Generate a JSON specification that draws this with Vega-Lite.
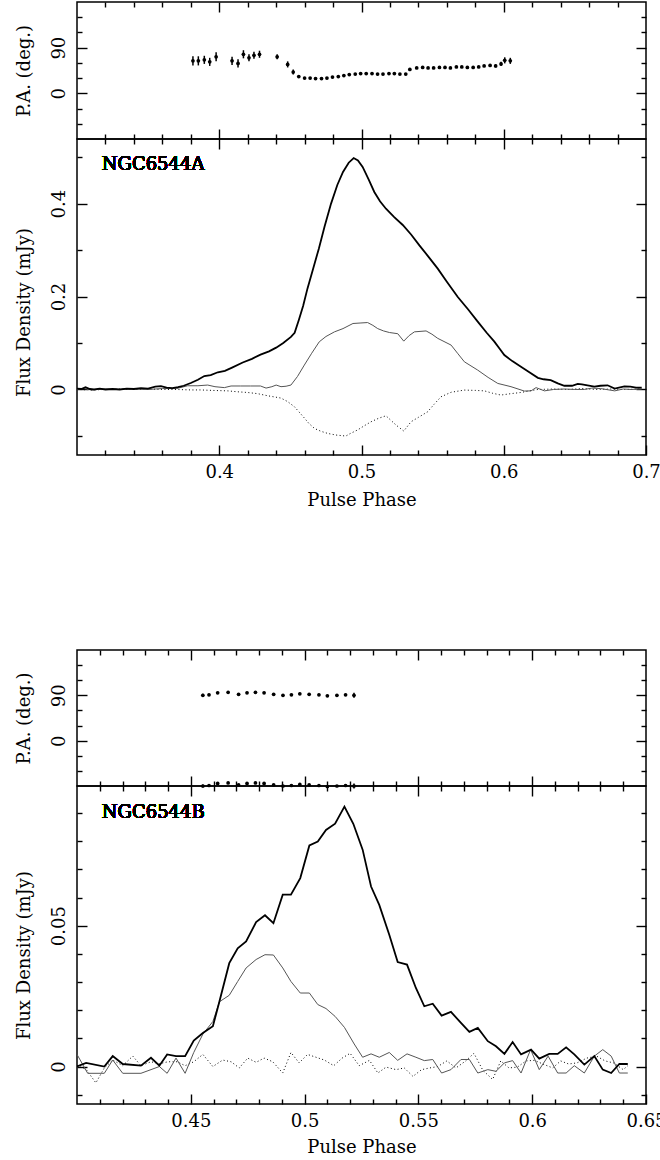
{
  "$schema": "https://vega.github.io/schema/vega-lite/v6.json",
  "padding": {"left": 14, "top": 0, "right": 0, "bottom": 0},
  "background": "white",
  "config": {
    "view": {"stroke": "#000", "strokeWidth": 1.5},
    "axis": {"domain": false, "grid": false, "tickColor": "#000", "tickWidth": 1.4, "labelColor": "#000", "titleColor": "#000", "labelFont": "DejaVu Serif", "titleFont": "DejaVu Serif", "labelFontSize": 18, "titleFontSize": 18, "titleFontWeight": "normal", "labelOverlap": false, "labelBound": false, "labelFlush": false},
    "text": {"font": "DejaVu Serif"}
  },
  "datasets": {
    "paA": [
      {"x": 0.3815, "pa": 64, "err": 9}, {"x": 0.3853, "pa": 64, "err": 9}, {"x": 0.3895, "pa": 66, "err": 8}, {"x": 0.3933, "pa": 62, "err": 8}, {"x": 0.3978, "pa": 72, "err": 9},
      {"x": 0.409, "pa": 64, "err": 8}, {"x": 0.4132, "pa": 59, "err": 8}, {"x": 0.417, "pa": 77, "err": 8}, {"x": 0.4209, "pa": 70, "err": 7}, {"x": 0.4244, "pa": 75, "err": 7}, {"x": 0.4283, "pa": 77, "err": 7},
      {"x": 0.4407, "pa": 72, "err": 5}, {"x": 0.4481, "pa": 57, "err": 6}, {"x": 0.452, "pa": 42, "err": 5}, {"x": 0.4559, "pa": 33, "err": 3}, {"x": 0.46, "pa": 30, "err": 2},
      {"x": 0.4639, "pa": 30, "err": 2}, {"x": 0.4677, "pa": 29, "err": 2}, {"x": 0.4719, "pa": 29, "err": 2}, {"x": 0.4757, "pa": 30, "err": 2}, {"x": 0.4796, "pa": 32, "err": 2},
      {"x": 0.4837, "pa": 33, "err": 2}, {"x": 0.4876, "pa": 35, "err": 2}, {"x": 0.4914, "pa": 37, "err": 2}, {"x": 0.4956, "pa": 38, "err": 2}, {"x": 0.4994, "pa": 39, "err": 2},
      {"x": 0.5033, "pa": 39, "err": 2}, {"x": 0.5074, "pa": 39, "err": 2}, {"x": 0.5113, "pa": 38, "err": 2}, {"x": 0.5151, "pa": 38, "err": 2}, {"x": 0.5193, "pa": 39, "err": 2},
      {"x": 0.5231, "pa": 39, "err": 2}, {"x": 0.527, "pa": 38, "err": 2}, {"x": 0.5311, "pa": 38, "err": 2}, {"x": 0.534, "pa": 47, "err": 2}, {"x": 0.5388, "pa": 50, "err": 2},
      {"x": 0.543, "pa": 51, "err": 2}, {"x": 0.5468, "pa": 50, "err": 2}, {"x": 0.5507, "pa": 50, "err": 2}, {"x": 0.5548, "pa": 51, "err": 2}, {"x": 0.5587, "pa": 51, "err": 2},
      {"x": 0.5625, "pa": 50, "err": 2}, {"x": 0.5667, "pa": 52, "err": 2}, {"x": 0.5705, "pa": 52, "err": 2}, {"x": 0.5744, "pa": 51, "err": 2}, {"x": 0.5785, "pa": 51, "err": 2},
      {"x": 0.5824, "pa": 52, "err": 2}, {"x": 0.5862, "pa": 54, "err": 2}, {"x": 0.5904, "pa": 55, "err": 3}, {"x": 0.5943, "pa": 54, "err": 3}, {"x": 0.5981, "pa": 58, "err": 4},
      {"x": 0.6007, "pa": 65, "err": 6}, {"x": 0.6046, "pa": 64, "err": 6}
    ],
    "paB": [
      {"x": 0.4553, "pa": 90, "err": 3}, {"x": 0.458, "pa": 91, "err": 2}, {"x": 0.4618, "pa": 95, "err": 2}, {"x": 0.4664, "pa": 96, "err": 2}, {"x": 0.471, "pa": 92, "err": 2},
      {"x": 0.4747, "pa": 95, "err": 2}, {"x": 0.4784, "pa": 96, "err": 2}, {"x": 0.4822, "pa": 95, "err": 2}, {"x": 0.4864, "pa": 92, "err": 2}, {"x": 0.4905, "pa": 90, "err": 2},
      {"x": 0.4942, "pa": 91, "err": 2}, {"x": 0.4979, "pa": 93, "err": 2}, {"x": 0.502, "pa": 92, "err": 2}, {"x": 0.5063, "pa": 91, "err": 2}, {"x": 0.51, "pa": 89, "err": 2},
      {"x": 0.5142, "pa": 90, "err": 2}, {"x": 0.518, "pa": 91, "err": 2}, {"x": 0.5217, "pa": 90, "err": 5},
      {"x": 0.4553, "pa": -90, "err": 3}, {"x": 0.458, "pa": -89, "err": 2}, {"x": 0.4618, "pa": -85, "err": 2}, {"x": 0.4664, "pa": -84, "err": 2}, {"x": 0.471, "pa": -88, "err": 2},
      {"x": 0.4747, "pa": -85, "err": 2}, {"x": 0.4784, "pa": -84, "err": 2}, {"x": 0.4822, "pa": -85, "err": 2}, {"x": 0.4864, "pa": -88, "err": 2}, {"x": 0.4905, "pa": -90, "err": 2},
      {"x": 0.4942, "pa": -89, "err": 2}, {"x": 0.4979, "pa": -87, "err": 2}, {"x": 0.502, "pa": -88, "err": 2}, {"x": 0.5063, "pa": -89, "err": 2}, {"x": 0.51, "pa": -91, "err": 2},
      {"x": 0.5142, "pa": -90, "err": 2}, {"x": 0.518, "pa": -89, "err": 2}, {"x": 0.5217, "pa": -90, "err": 5}
    ],
    "fluxA": [
      {"s": "I", "x": 0.300, "y": 0.002}, {"s": "I", "x": 0.303, "y": 0.001}, {"s": "I", "x": 0.306, "y": 0.005}, {"s": "I", "x": 0.309, "y": 0.001}, {"s": "I", "x": 0.312, "y": 0.000},
      {"s": "I", "x": 0.316, "y": 0.002}, {"s": "I", "x": 0.320, "y": 0.000}, {"s": "I", "x": 0.325, "y": 0.001}, {"s": "I", "x": 0.330, "y": 0.000}, {"s": "I", "x": 0.335, "y": 0.002},
      {"s": "I", "x": 0.340, "y": 0.001}, {"s": "I", "x": 0.345, "y": 0.003}, {"s": "I", "x": 0.350, "y": 0.002}, {"s": "I", "x": 0.355, "y": 0.006}, {"s": "I", "x": 0.359, "y": 0.007},
      {"s": "I", "x": 0.363, "y": 0.004}, {"s": "I", "x": 0.367, "y": 0.003}, {"s": "I", "x": 0.371, "y": 0.005}, {"s": "I", "x": 0.375, "y": 0.008}, {"s": "I", "x": 0.380, "y": 0.014},
      {"s": "I", "x": 0.385, "y": 0.021}, {"s": "I", "x": 0.3895, "y": 0.029}, {"s": "I", "x": 0.394, "y": 0.031}, {"s": "I", "x": 0.399, "y": 0.037}, {"s": "I", "x": 0.404, "y": 0.040},
      {"s": "I", "x": 0.409, "y": 0.047}, {"s": "I", "x": 0.4165, "y": 0.058}, {"s": "I", "x": 0.423, "y": 0.066}, {"s": "I", "x": 0.429, "y": 0.075}, {"s": "I", "x": 0.435, "y": 0.082},
      {"s": "I", "x": 0.440, "y": 0.090}, {"s": "I", "x": 0.445, "y": 0.100}, {"s": "I", "x": 0.4504, "y": 0.113}, {"s": "I", "x": 0.453, "y": 0.122}, {"s": "I", "x": 0.456, "y": 0.150},
      {"s": "I", "x": 0.459, "y": 0.180}, {"s": "I", "x": 0.462, "y": 0.217}, {"s": "I", "x": 0.466, "y": 0.260}, {"s": "I", "x": 0.470, "y": 0.303}, {"s": "I", "x": 0.474, "y": 0.350},
      {"s": "I", "x": 0.4786, "y": 0.400}, {"s": "I", "x": 0.483, "y": 0.440}, {"s": "I", "x": 0.487, "y": 0.468}, {"s": "I", "x": 0.491, "y": 0.488}, {"s": "I", "x": 0.4945, "y": 0.498},
      {"s": "I", "x": 0.4975, "y": 0.493}, {"s": "I", "x": 0.5008, "y": 0.479}, {"s": "I", "x": 0.505, "y": 0.452}, {"s": "I", "x": 0.509, "y": 0.425}, {"s": "I", "x": 0.513, "y": 0.405},
      {"s": "I", "x": 0.5172, "y": 0.389}, {"s": "I", "x": 0.523, "y": 0.371}, {"s": "I", "x": 0.529, "y": 0.354}, {"s": "I", "x": 0.535, "y": 0.333}, {"s": "I", "x": 0.5407, "y": 0.310},
      {"s": "I", "x": 0.547, "y": 0.286}, {"s": "I", "x": 0.5536, "y": 0.260}, {"s": "I", "x": 0.560, "y": 0.232}, {"s": "I", "x": 0.5677, "y": 0.199}, {"s": "I", "x": 0.575, "y": 0.172},
      {"s": "I", "x": 0.5817, "y": 0.146}, {"s": "I", "x": 0.588, "y": 0.122}, {"s": "I", "x": 0.5934, "y": 0.103}, {"s": "I", "x": 0.597, "y": 0.088}, {"s": "I", "x": 0.6004, "y": 0.074},
      {"s": "I", "x": 0.606, "y": 0.061}, {"s": "I", "x": 0.6121, "y": 0.049}, {"s": "I", "x": 0.618, "y": 0.037}, {"s": "I", "x": 0.624, "y": 0.025}, {"s": "I", "x": 0.628, "y": 0.022},
      {"s": "I", "x": 0.633, "y": 0.020}, {"s": "I", "x": 0.638, "y": 0.013}, {"s": "I", "x": 0.6426, "y": 0.008}, {"s": "I", "x": 0.648, "y": 0.008}, {"s": "I", "x": 0.652, "y": 0.012},
      {"s": "I", "x": 0.655, "y": 0.011}, {"s": "I", "x": 0.6637, "y": 0.006}, {"s": "I", "x": 0.668, "y": 0.008}, {"s": "I", "x": 0.673, "y": 0.009}, {"s": "I", "x": 0.678, "y": 0.002},
      {"s": "I", "x": 0.6848, "y": 0.0065}, {"s": "I", "x": 0.689, "y": 0.006}, {"s": "I", "x": 0.693, "y": 0.004}, {"s": "I", "x": 0.697, "y": 0.004},
      {"s": "L", "x": 0.300, "y": 0.000}, {"s": "L", "x": 0.305, "y": 0.002}, {"s": "L", "x": 0.310, "y": -0.001}, {"s": "L", "x": 0.320, "y": 0.001}, {"s": "L", "x": 0.330, "y": 0.000},
      {"s": "L", "x": 0.340, "y": 0.001}, {"s": "L", "x": 0.350, "y": 0.000}, {"s": "L", "x": 0.360, "y": 0.002}, {"s": "L", "x": 0.370, "y": 0.002}, {"s": "L", "x": 0.3778, "y": 0.008},
      {"s": "L", "x": 0.385, "y": 0.008}, {"s": "L", "x": 0.3919, "y": 0.0095}, {"s": "L", "x": 0.397, "y": 0.006}, {"s": "L", "x": 0.4036, "y": 0.004}, {"s": "L", "x": 0.4083, "y": 0.0075},
      {"s": "L", "x": 0.415, "y": 0.0075}, {"s": "L", "x": 0.422, "y": 0.0075}, {"s": "L", "x": 0.429, "y": 0.0075}, {"s": "L", "x": 0.4329, "y": 0.003}, {"s": "L", "x": 0.437, "y": 0.006},
      {"s": "L", "x": 0.440, "y": 0.0095}, {"s": "L", "x": 0.4434, "y": 0.006}, {"s": "L", "x": 0.447, "y": 0.007}, {"s": "L", "x": 0.4504, "y": 0.0095}, {"s": "L", "x": 0.455, "y": 0.028},
      {"s": "L", "x": 0.4598, "y": 0.0525}, {"s": "L", "x": 0.465, "y": 0.078}, {"s": "L", "x": 0.4703, "y": 0.1026}, {"s": "L", "x": 0.475, "y": 0.114}, {"s": "L", "x": 0.481, "y": 0.124},
      {"s": "L", "x": 0.487, "y": 0.131}, {"s": "L", "x": 0.494, "y": 0.142}, {"s": "L", "x": 0.499, "y": 0.143}, {"s": "L", "x": 0.5043, "y": 0.144}, {"s": "L", "x": 0.508, "y": 0.138},
      {"s": "L", "x": 0.5114, "y": 0.131}, {"s": "L", "x": 0.5155, "y": 0.126}, {"s": "L", "x": 0.5196, "y": 0.1226}, {"s": "L", "x": 0.5255, "y": 0.120}, {"s": "L", "x": 0.5297, "y": 0.104},
      {"s": "L", "x": 0.5335, "y": 0.116}, {"s": "L", "x": 0.5372, "y": 0.124}, {"s": "L", "x": 0.5454, "y": 0.126}, {"s": "L", "x": 0.5495, "y": 0.119}, {"s": "L", "x": 0.5536, "y": 0.110},
      {"s": "L", "x": 0.563, "y": 0.0955}, {"s": "L", "x": 0.5675, "y": 0.078}, {"s": "L", "x": 0.5723, "y": 0.0596}, {"s": "L", "x": 0.5817, "y": 0.0417}, {"s": "L", "x": 0.589, "y": 0.026},
      {"s": "L", "x": 0.5958, "y": 0.013}, {"s": "L", "x": 0.6051, "y": 0.006}, {"s": "L", "x": 0.6145, "y": -0.0034}, {"s": "L", "x": 0.6192, "y": -0.003}, {"s": "L", "x": 0.6227, "y": 0.004},
      {"s": "L", "x": 0.6286, "y": -0.003}, {"s": "L", "x": 0.635, "y": 0.000}, {"s": "L", "x": 0.6426, "y": 0.001}, {"s": "L", "x": 0.650, "y": 0.000}, {"s": "L", "x": 0.6566, "y": 0.000},
      {"s": "L", "x": 0.662, "y": 0.003}, {"s": "L", "x": 0.668, "y": 0.002}, {"s": "L", "x": 0.678, "y": -0.003}, {"s": "L", "x": 0.684, "y": 0.001}, {"s": "L", "x": 0.6896, "y": 0.000},
      {"s": "L", "x": 0.697, "y": 0.001},
      {"s": "V", "x": 0.300, "y": 0.000}, {"s": "V", "x": 0.310, "y": -0.001}, {"s": "V", "x": 0.320, "y": 0.000}, {"s": "V", "x": 0.330, "y": 0.001}, {"s": "V", "x": 0.340, "y": 0.000},
      {"s": "V", "x": 0.350, "y": 0.001}, {"s": "V", "x": 0.360, "y": 0.000}, {"s": "V", "x": 0.370, "y": 0.000}, {"s": "V", "x": 0.380, "y": -0.001}, {"s": "V", "x": 0.387, "y": -0.001},
      {"s": "V", "x": 0.395, "y": -0.002}, {"s": "V", "x": 0.406, "y": -0.003}, {"s": "V", "x": 0.413, "y": -0.005}, {"s": "V", "x": 0.420, "y": -0.0065}, {"s": "V", "x": 0.427, "y": -0.009},
      {"s": "V", "x": 0.434, "y": -0.0135}, {"s": "V", "x": 0.4434, "y": -0.0185}, {"s": "V", "x": 0.448, "y": -0.026}, {"s": "V", "x": 0.4528, "y": -0.037}, {"s": "V", "x": 0.456, "y": -0.048},
      {"s": "V", "x": 0.460, "y": -0.062}, {"s": "V", "x": 0.463, "y": -0.073}, {"s": "V", "x": 0.467, "y": -0.084}, {"s": "V", "x": 0.4715, "y": -0.090}, {"s": "V", "x": 0.4763, "y": -0.0946},
      {"s": "V", "x": 0.482, "y": -0.098}, {"s": "V", "x": 0.487, "y": -0.0996}, {"s": "V", "x": 0.4891, "y": -0.100}, {"s": "V", "x": 0.492, "y": -0.095}, {"s": "V", "x": 0.4973, "y": -0.087},
      {"s": "V", "x": 0.502, "y": -0.078}, {"s": "V", "x": 0.5067, "y": -0.0695}, {"s": "V", "x": 0.512, "y": -0.062}, {"s": "V", "x": 0.5172, "y": -0.0566}, {"s": "V", "x": 0.5243, "y": -0.0766},
      {"s": "V", "x": 0.5297, "y": -0.0895}, {"s": "V", "x": 0.5348, "y": -0.0695}, {"s": "V", "x": 0.540, "y": -0.060}, {"s": "V", "x": 0.5465, "y": -0.048}, {"s": "V", "x": 0.551, "y": -0.032},
      {"s": "V", "x": 0.5559, "y": -0.0157}, {"s": "V", "x": 0.563, "y": -0.006}, {"s": "V", "x": 0.5723, "y": -0.0013}, {"s": "V", "x": 0.580, "y": -0.002}, {"s": "V", "x": 0.5864, "y": -0.003},
      {"s": "V", "x": 0.592, "y": -0.008}, {"s": "V", "x": 0.598, "y": -0.012}, {"s": "V", "x": 0.605, "y": -0.009}, {"s": "V", "x": 0.612, "y": -0.0065}, {"s": "V", "x": 0.618, "y": -0.003},
      {"s": "V", "x": 0.624, "y": 0.000}, {"s": "V", "x": 0.635, "y": 0.001}, {"s": "V", "x": 0.645, "y": 0.000}, {"s": "V", "x": 0.655, "y": 0.002}, {"s": "V", "x": 0.665, "y": 0.000},
      {"s": "V", "x": 0.675, "y": 0.001}, {"s": "V", "x": 0.685, "y": 0.000}, {"s": "V", "x": 0.697, "y": 0.001}
    ],
    "fluxB": [
      {"s": "I", "x": 0.4000, "y": 0.0000}, {"s": "I", "x": 0.4040, "y": 0.0013}, {"s": "I", "x": 0.4120, "y": 0.0000}, {"s": "I", "x": 0.4157, "y": 0.0037}, {"s": "I", "x": 0.4201, "y": 0.0009},
      {"s": "I", "x": 0.4281, "y": 0.0003}, {"s": "I", "x": 0.4325, "y": 0.0031}, {"s": "I", "x": 0.4362, "y": 0.0003}, {"s": "I", "x": 0.4396, "y": 0.0043}, {"s": "I", "x": 0.4435, "y": 0.0037},
      {"s": "I", "x": 0.4475, "y": 0.0037}, {"s": "I", "x": 0.4513, "y": 0.0092}, {"s": "I", "x": 0.4553, "y": 0.0119}, {"s": "I", "x": 0.4597, "y": 0.0143}, {"s": "I", "x": 0.4626, "y": 0.0232},
      {"s": "I", "x": 0.4669, "y": 0.0367}, {"s": "I", "x": 0.4706, "y": 0.0420}, {"s": "I", "x": 0.4743, "y": 0.0444}, {"s": "I", "x": 0.4787, "y": 0.0513}, {"s": "I", "x": 0.4826, "y": 0.0537},
      {"s": "I", "x": 0.4863, "y": 0.0509}, {"s": "I", "x": 0.4904, "y": 0.0610}, {"s": "I", "x": 0.4940, "y": 0.0610}, {"s": "I", "x": 0.4981, "y": 0.0669}, {"s": "I", "x": 0.5021, "y": 0.0785},
      {"s": "I", "x": 0.5058, "y": 0.0799}, {"s": "I", "x": 0.5094, "y": 0.0840}, {"s": "I", "x": 0.5134, "y": 0.0862}, {"s": "I", "x": 0.5175, "y": 0.0923}, {"s": "I", "x": 0.5214, "y": 0.0862},
      {"s": "I", "x": 0.5255, "y": 0.0770}, {"s": "I", "x": 0.5292, "y": 0.0639}, {"s": "I", "x": 0.5328, "y": 0.0574}, {"s": "I", "x": 0.5372, "y": 0.0468}, {"s": "I", "x": 0.5409, "y": 0.0371},
      {"s": "I", "x": 0.5450, "y": 0.0362}, {"s": "I", "x": 0.5489, "y": 0.0279}, {"s": "I", "x": 0.5526, "y": 0.0214}, {"s": "I", "x": 0.5563, "y": 0.0223}, {"s": "I", "x": 0.5602, "y": 0.0181},
      {"s": "I", "x": 0.5643, "y": 0.0194}, {"s": "I", "x": 0.5687, "y": 0.0155}, {"s": "I", "x": 0.5724, "y": 0.0123}, {"s": "I", "x": 0.5761, "y": 0.0137}, {"s": "I", "x": 0.5805, "y": 0.0090},
      {"s": "I", "x": 0.5841, "y": 0.0072}, {"s": "I", "x": 0.5878, "y": 0.0045}, {"s": "I", "x": 0.5914, "y": 0.0087}, {"s": "I", "x": 0.5951, "y": 0.0043}, {"s": "I", "x": 0.5995, "y": 0.0060},
      {"s": "I", "x": 0.6031, "y": 0.0028}, {"s": "I", "x": 0.6075, "y": 0.0045}, {"s": "I", "x": 0.6112, "y": 0.0045}, {"s": "I", "x": 0.6149, "y": 0.0068}, {"s": "I", "x": 0.6185, "y": 0.0043},
      {"s": "I", "x": 0.6229, "y": 0.0007}, {"s": "I", "x": 0.6273, "y": 0.0037}, {"s": "I", "x": 0.6310, "y": -0.0011}, {"s": "I", "x": 0.6347, "y": -0.0023}, {"s": "I", "x": 0.6383, "y": 0.0009},
      {"s": "I", "x": 0.6420, "y": 0.0009},
      {"s": "L", "x": 0.4000, "y": 0.0043}, {"s": "L", "x": 0.4047, "y": -0.0024}, {"s": "L", "x": 0.4120, "y": -0.0024}, {"s": "L", "x": 0.4157, "y": 0.0023}, {"s": "L", "x": 0.4201, "y": -0.0024},
      {"s": "L", "x": 0.4281, "y": -0.0024}, {"s": "L", "x": 0.4362, "y": 0.0000}, {"s": "L", "x": 0.4396, "y": -0.0024}, {"s": "L", "x": 0.4435, "y": 0.0030}, {"s": "L", "x": 0.4475, "y": -0.0024},
      {"s": "L", "x": 0.4513, "y": 0.0050}, {"s": "L", "x": 0.4553, "y": 0.0115}, {"s": "L", "x": 0.4597, "y": 0.0160}, {"s": "L", "x": 0.4626, "y": 0.0230}, {"s": "L", "x": 0.4669, "y": 0.0253},
      {"s": "L", "x": 0.4706, "y": 0.0302}, {"s": "L", "x": 0.4743, "y": 0.0350}, {"s": "L", "x": 0.4787, "y": 0.0380}, {"s": "L", "x": 0.4826, "y": 0.0397}, {"s": "L", "x": 0.4863, "y": 0.0396},
      {"s": "L", "x": 0.4904, "y": 0.0350}, {"s": "L", "x": 0.4940, "y": 0.0302}, {"s": "L", "x": 0.4981, "y": 0.0261}, {"s": "L", "x": 0.5021, "y": 0.0261}, {"s": "L", "x": 0.5058, "y": 0.0220},
      {"s": "L", "x": 0.5094, "y": 0.0206}, {"s": "L", "x": 0.5134, "y": 0.0178}, {"s": "L", "x": 0.5175, "y": 0.0139}, {"s": "L", "x": 0.5218, "y": 0.0080}, {"s": "L", "x": 0.5255, "y": 0.0033},
      {"s": "L", "x": 0.5292, "y": 0.0045}, {"s": "L", "x": 0.5328, "y": 0.0033}, {"s": "L", "x": 0.5372, "y": 0.0050}, {"s": "L", "x": 0.5409, "y": 0.0022}, {"s": "L", "x": 0.5450, "y": 0.0045},
      {"s": "L", "x": 0.5489, "y": 0.0033}, {"s": "L", "x": 0.5526, "y": 0.0021}, {"s": "L", "x": 0.5563, "y": 0.0025}, {"s": "L", "x": 0.5602, "y": -0.0023}, {"s": "L", "x": 0.5643, "y": -0.0011},
      {"s": "L", "x": 0.5687, "y": 0.0025}, {"s": "L", "x": 0.5724, "y": 0.0025}, {"s": "L", "x": 0.5761, "y": -0.0023}, {"s": "L", "x": 0.5805, "y": -0.0011}, {"s": "L", "x": 0.5841, "y": -0.0017},
      {"s": "L", "x": 0.5878, "y": 0.0013}, {"s": "L", "x": 0.5914, "y": 0.0021}, {"s": "L", "x": 0.5951, "y": -0.0023}, {"s": "L", "x": 0.5993, "y": 0.0060}, {"s": "L", "x": 0.6031, "y": -0.0011},
      {"s": "L", "x": 0.6070, "y": 0.0037}, {"s": "L", "x": 0.6112, "y": -0.0023}, {"s": "L", "x": 0.6149, "y": -0.0023}, {"s": "L", "x": 0.6185, "y": 0.0003}, {"s": "L", "x": 0.6229, "y": -0.0023},
      {"s": "L", "x": 0.6273, "y": 0.0037}, {"s": "L", "x": 0.6310, "y": 0.0060}, {"s": "L", "x": 0.6347, "y": 0.0037}, {"s": "L", "x": 0.6383, "y": -0.0023}, {"s": "L", "x": 0.6420, "y": -0.0023},
      {"s": "V", "x": 0.4000, "y": 0.0003}, {"s": "V", "x": 0.4040, "y": -0.0010}, {"s": "V", "x": 0.4083, "y": -0.0058}, {"s": "V", "x": 0.4120, "y": -0.0005}, {"s": "V", "x": 0.4157, "y": 0.0023},
      {"s": "V", "x": 0.4201, "y": 0.0003}, {"s": "V", "x": 0.4245, "y": 0.0037}, {"s": "V", "x": 0.4281, "y": 0.0003}, {"s": "V", "x": 0.4325, "y": 0.0017}, {"s": "V", "x": 0.4362, "y": 0.0010},
      {"s": "V", "x": 0.4400, "y": 0.0017}, {"s": "V", "x": 0.4440, "y": 0.0017}, {"s": "V", "x": 0.4475, "y": 0.0003}, {"s": "V", "x": 0.4513, "y": 0.0017}, {"s": "V", "x": 0.4553, "y": 0.0043},
      {"s": "V", "x": 0.4597, "y": 0.0000}, {"s": "V", "x": 0.4640, "y": 0.0023}, {"s": "V", "x": 0.4677, "y": 0.0017}, {"s": "V", "x": 0.4713, "y": -0.0005}, {"s": "V", "x": 0.4750, "y": 0.0030},
      {"s": "V", "x": 0.4787, "y": 0.0015}, {"s": "V", "x": 0.4822, "y": 0.0030}, {"s": "V", "x": 0.4860, "y": 0.0017}, {"s": "V", "x": 0.4904, "y": -0.0023}, {"s": "V", "x": 0.4940, "y": 0.0050},
      {"s": "V", "x": 0.4976, "y": 0.0013}, {"s": "V", "x": 0.5013, "y": 0.0043}, {"s": "V", "x": 0.5050, "y": 0.0033}, {"s": "V", "x": 0.5087, "y": 0.0023}, {"s": "V", "x": 0.5128, "y": 0.0003},
      {"s": "V", "x": 0.5165, "y": 0.0030}, {"s": "V", "x": 0.5200, "y": 0.0047}, {"s": "V", "x": 0.5240, "y": 0.0003}, {"s": "V", "x": 0.5285, "y": 0.0022}, {"s": "V", "x": 0.5322, "y": -0.0023},
      {"s": "V", "x": 0.5358, "y": -0.0002}, {"s": "V", "x": 0.5402, "y": -0.0011}, {"s": "V", "x": 0.5438, "y": -0.0005}, {"s": "V", "x": 0.5476, "y": -0.0035}, {"s": "V", "x": 0.5514, "y": -0.0011},
      {"s": "V", "x": 0.5550, "y": -0.0005}, {"s": "V", "x": 0.5585, "y": 0.0000}, {"s": "V", "x": 0.5625, "y": 0.0020}, {"s": "V", "x": 0.5665, "y": -0.0005}, {"s": "V", "x": 0.5708, "y": 0.0020},
      {"s": "V", "x": 0.5744, "y": 0.0047}, {"s": "V", "x": 0.5783, "y": -0.0013}, {"s": "V", "x": 0.5826, "y": -0.0046}, {"s": "V", "x": 0.5862, "y": 0.0020}, {"s": "V", "x": 0.5898, "y": -0.0005},
      {"s": "V", "x": 0.5935, "y": -0.0002}, {"s": "V", "x": 0.5973, "y": 0.0020}, {"s": "V", "x": 0.6010, "y": 0.0022}, {"s": "V", "x": 0.6047, "y": 0.0009}, {"s": "V", "x": 0.6090, "y": -0.0005},
      {"s": "V", "x": 0.6125, "y": 0.0020}, {"s": "V", "x": 0.6160, "y": 0.0009}, {"s": "V", "x": 0.6197, "y": 0.0013}, {"s": "V", "x": 0.6240, "y": 0.0030}, {"s": "V", "x": 0.6283, "y": 0.0037},
      {"s": "V", "x": 0.6320, "y": 0.0020}, {"s": "V", "x": 0.6357, "y": 0.0013}, {"s": "V", "x": 0.6400, "y": -0.0011}, {"s": "V", "x": 0.6420, "y": 0.0003}
    ]
  },
  "vconcat": [
    {
      "spacing": 0,
      "bounds": "flush",
      "vconcat": [
        {
          "width": 569, "height": 137,
          "data": {"name": "paA"},
          "layer": [
            {
              "mark": {"type": "errorbar", "color": "#000", "thickness": 1.5},
              "encoding": {
                "x": {"field": "x", "type": "quantitative", "scale": {"domain": [0.3, 0.7], "nice": false, "zero": false},
                  "axis": {"orient": "bottom", "values": [0.32,0.34,0.36,0.38,0.4,0.42,0.44,0.46,0.48,0.5,0.52,0.54,0.56,0.58,0.6,0.62,0.64,0.66,0.68], "tickSize": {"condition": {"test": "abs(datum.value*10-round(datum.value*10))<0.001", "value": -10}, "value": -5}, "labels": false, "title": null}},
                "y": {"field": "pa", "type": "quantitative", "scale": {"domain": [-90, 180], "nice": false, "zero": false},
                  "axis": {"orient": "left", "values": [-60,-30,0,30,60,90,120,150], "tickSize": {"condition": {"test": "datum.value % 90 === 0", "value": -10}, "value": -5}, "labelExpr": "datum.value === 0 || datum.value === 90 ? datum.label : ''", "labelAngle": 270, "labelAlign": "center", "labelBaseline": "middle", "labelPadding": 28, "title": "P.A. (deg.)", "titleX": -53, "titleBaseline": "middle"}},
                "yError": {"field": "err"}
              }
            },
            {
              "mark": {"type": "point", "filled": true, "size": 14, "color": "#000", "opacity": 1},
              "encoding": {
                "x": {"field": "x", "type": "quantitative", "scale": {"domain": [0.3, 0.7], "nice": false, "zero": false}, "axis": null},
                "y": {"field": "pa", "type": "quantitative", "scale": {"domain": [-90, 180], "nice": false, "zero": false}, "axis": null}
              }
            },
            {
              "mark": {"type": "point", "opacity": 0},
              "encoding": {
                "x": {"field": "x", "type": "quantitative", "scale": {"domain": [0.3, 0.7], "nice": false, "zero": false},
                  "axis": {"orient": "top", "values": [0.32,0.34,0.36,0.38,0.4,0.42,0.44,0.46,0.48,0.5,0.52,0.54,0.56,0.58,0.6,0.62,0.64,0.66,0.68], "tickSize": {"condition": {"test": "abs(datum.value*10-round(datum.value*10))<0.001", "value": -10}, "value": -5}, "labels": false, "title": null}},
                "y": {"field": "pa", "type": "quantitative", "scale": {"domain": [-90, 180], "nice": false, "zero": false},
                  "axis": {"orient": "right", "values": [-60,-30,0,30,60,90,120,150], "tickSize": {"condition": {"test": "datum.value % 90 === 0", "value": -10}, "value": -5}, "labels": false, "title": null}}
              }
            }
          ],
          "resolve": {"axis": {"x": "independent", "y": "independent"}}
        },
        {
          "width": 569, "height": 316,
          "data": {"name": "fluxA"},
          "layer": [
            {
              "transform": [{"filter": "datum.s === 'V'"}],
              "mark": {"type": "line", "color": "#000", "strokeWidth": 1, "strokeDash": [1, 2.5], "clip": true},
              "encoding": {
                "x": {"field": "x", "type": "quantitative", "scale": {"domain": [0.3, 0.7], "nice": false, "zero": false},
                  "axis": {"orient": "bottom", "values": [0.32,0.34,0.36,0.38,0.4,0.42,0.44,0.46,0.48,0.5,0.52,0.54,0.56,0.58,0.6,0.62,0.64,0.66,0.68,0.7], "tickSize": {"condition": {"test": "abs(datum.value*10-round(datum.value*10))<0.001", "value": -10}, "value": -5}, "labelExpr": "abs(datum.value*10-round(datum.value*10))<0.001 ? format(datum.value, '~g') : ''", "labelPadding": 18, "title": "Pulse Phase", "titleY": 45, "titleBaseline": "middle"}},
                "y": {"field": "y", "type": "quantitative", "scale": {"domain": [-0.141, 0.539], "nice": false, "zero": false},
                  "axis": {"orient": "left", "values": [-0.1,0,0.1,0.2,0.3,0.4,0.5], "tickSize": {"condition": {"test": "abs(datum.value*5-round(datum.value*5))<0.001", "value": -10}, "value": -5}, "labelExpr": "abs(datum.value*5-round(datum.value*5))<0.001 ? format(datum.value, '~g') : ''", "labelAngle": 270, "labelAlign": "center", "labelBaseline": "middle", "labelPadding": 28, "title": "Flux Density (mJy)", "titleX": -53, "titleY": 173, "titleBaseline": "middle"}}
              }
            },
            {
              "transform": [{"filter": "datum.s === 'L'"}],
              "mark": {"type": "line", "color": "#555", "strokeWidth": 1, "clip": true},
              "encoding": {
                "x": {"field": "x", "type": "quantitative", "scale": {"domain": [0.3, 0.7], "nice": false, "zero": false}, "axis": null},
                "y": {"field": "y", "type": "quantitative", "scale": {"domain": [-0.141, 0.539], "nice": false, "zero": false}, "axis": null}
              }
            },
            {
              "transform": [{"filter": "datum.s === 'I'"}],
              "mark": {"type": "line", "color": "#000", "strokeWidth": 1.8, "clip": true},
              "encoding": {
                "x": {"field": "x", "type": "quantitative", "scale": {"domain": [0.3, 0.7], "nice": false, "zero": false}, "axis": null},
                "y": {"field": "y", "type": "quantitative", "scale": {"domain": [-0.141, 0.539], "nice": false, "zero": false}, "axis": null}
              }
            },
            {
              "mark": {"type": "text", "align": "left", "baseline": "middle", "fontSize": 18, "color": "#000"},
              "encoding": {
                "x": {"datum": 0.3174, "type": "quantitative", "axis": null},
                "y": {"datum": 0.483, "type": "quantitative", "axis": null},
                "text": {"value": "NGC6544A"}
              }
            },
            {
              "mark": {"type": "point", "opacity": 0},
              "encoding": {
                "x": {"field": "x", "type": "quantitative", "scale": {"domain": [0.3, 0.7], "nice": false, "zero": false},
                  "axis": {"orient": "top", "values": [0.32,0.34,0.36,0.38,0.4,0.42,0.44,0.46,0.48,0.5,0.52,0.54,0.56,0.58,0.6,0.62,0.64,0.66,0.68], "tickSize": {"condition": {"test": "abs(datum.value*10-round(datum.value*10))<0.001", "value": -10}, "value": -5}, "labels": false, "title": null}},
                "y": {"field": "y", "type": "quantitative", "scale": {"domain": [-0.141, 0.539], "nice": false, "zero": false},
                  "axis": {"orient": "right", "values": [-0.1,0,0.1,0.2,0.3,0.4,0.5], "tickSize": {"condition": {"test": "abs(datum.value*5-round(datum.value*5))<0.001", "value": -10}, "value": -5}, "labels": false, "title": null}}
              }
            }
          ],
          "resolve": {"axis": {"x": "independent", "y": "independent"}}
        }
      ]
    },
    {
      "spacing": 0,
      "bounds": "flush",
      "vconcat": [
        {
          "width": 569, "height": 136,
          "data": {"name": "paB"},
          "layer": [
            {
              "mark": {"type": "errorbar", "color": "#000", "thickness": 1.5},
              "encoding": {
                "x": {"field": "x", "type": "quantitative", "scale": {"domain": [0.4, 0.65], "nice": false, "zero": false},
                  "axis": {"orient": "bottom", "values": [0.41,0.42,0.43,0.44,0.45,0.46,0.47,0.48,0.49,0.5,0.51,0.52,0.53,0.54,0.55,0.56,0.57,0.58,0.59,0.6,0.61,0.62,0.63,0.64], "tickSize": {"condition": {"test": "abs(datum.value*20-round(datum.value*20))<0.001", "value": -10}, "value": -5}, "labels": false, "title": null}},
                "y": {"field": "pa", "type": "quantitative", "scale": {"domain": [-90, 180], "nice": false, "zero": false},
                  "axis": {"orient": "left", "values": [-60,-30,0,30,60,90,120,150], "tickSize": {"condition": {"test": "datum.value % 90 === 0", "value": -10}, "value": -5}, "labelExpr": "datum.value === 0 || datum.value === 90 ? datum.label : ''", "labelAngle": 270, "labelAlign": "center", "labelBaseline": "middle", "labelPadding": 28, "title": "P.A. (deg.)", "titleX": -53, "titleBaseline": "middle"}},
                "yError": {"field": "err"}
              }
            },
            {
              "mark": {"type": "point", "filled": true, "size": 14, "color": "#000", "opacity": 1},
              "encoding": {
                "x": {"field": "x", "type": "quantitative", "scale": {"domain": [0.4, 0.65], "nice": false, "zero": false}, "axis": null},
                "y": {"field": "pa", "type": "quantitative", "scale": {"domain": [-90, 180], "nice": false, "zero": false}, "axis": null}
              }
            },
            {
              "mark": {"type": "point", "opacity": 0},
              "encoding": {
                "x": {"field": "x", "type": "quantitative", "scale": {"domain": [0.4, 0.65], "nice": false, "zero": false},
                  "axis": {"orient": "top", "values": [0.41,0.42,0.43,0.44,0.45,0.46,0.47,0.48,0.49,0.5,0.51,0.52,0.53,0.54,0.55,0.56,0.57,0.58,0.59,0.6,0.61,0.62,0.63,0.64], "tickSize": {"condition": {"test": "abs(datum.value*20-round(datum.value*20))<0.001", "value": -10}, "value": -5}, "labels": false, "title": null}},
                "y": {"field": "pa", "type": "quantitative", "scale": {"domain": [-90, 180], "nice": false, "zero": false},
                  "axis": {"orient": "right", "values": [-60,-30,0,30,60,90,120,150], "tickSize": {"condition": {"test": "datum.value % 90 === 0", "value": -10}, "value": -5}, "labels": false, "title": null}}
              }
            }
          ],
          "resolve": {"axis": {"x": "independent", "y": "independent"}}
        },
        {
          "width": 569, "height": 318,
          "data": {"name": "fluxB"},
          "layer": [
            {
              "transform": [{"filter": "datum.s === 'V'"}],
              "mark": {"type": "line", "color": "#000", "strokeWidth": 1, "strokeDash": [1, 2.5], "clip": true},
              "encoding": {
                "x": {"field": "x", "type": "quantitative", "scale": {"domain": [0.4, 0.65], "nice": false, "zero": false},
                  "axis": {"orient": "bottom", "values": [0.41,0.42,0.43,0.44,0.45,0.46,0.47,0.48,0.49,0.5,0.51,0.52,0.53,0.54,0.55,0.56,0.57,0.58,0.59,0.6,0.61,0.62,0.63,0.64,0.65], "tickSize": {"condition": {"test": "abs(datum.value*20-round(datum.value*20))<0.001", "value": -10}, "value": -5}, "labelExpr": "abs(datum.value*20-round(datum.value*20))<0.001 ? format(datum.value, '~g') : ''", "labelPadding": 18, "title": "Pulse Phase", "titleY": 43, "titleBaseline": "middle"}},
                "y": {"field": "y", "type": "quantitative", "scale": {"domain": [-0.0133, 0.0996], "nice": false, "zero": false},
                  "axis": {"orient": "left", "values": [-0.01,0,0.01,0.02,0.03,0.04,0.05,0.06,0.07,0.08,0.09], "tickSize": {"condition": {"test": "abs(datum.value*20-round(datum.value*20))<0.001", "value": -10}, "value": -5}, "labelExpr": "abs(datum.value*20-round(datum.value*20))<0.001 ? format(datum.value, '~g') : ''", "labelAngle": 270, "labelAlign": "center", "labelBaseline": "middle", "labelPadding": 28, "title": "Flux Density (mJy)", "titleX": -53, "titleY": 169, "titleBaseline": "middle"}}
              }
            },
            {
              "transform": [{"filter": "datum.s === 'L'"}],
              "mark": {"type": "line", "color": "#555", "strokeWidth": 1, "clip": true},
              "encoding": {
                "x": {"field": "x", "type": "quantitative", "scale": {"domain": [0.4, 0.65], "nice": false, "zero": false}, "axis": null},
                "y": {"field": "y", "type": "quantitative", "scale": {"domain": [-0.0133, 0.0996], "nice": false, "zero": false}, "axis": null}
              }
            },
            {
              "transform": [{"filter": "datum.s === 'I'"}],
              "mark": {"type": "line", "color": "#000", "strokeWidth": 1.8, "clip": true},
              "encoding": {
                "x": {"field": "x", "type": "quantitative", "scale": {"domain": [0.4, 0.65], "nice": false, "zero": false}, "axis": null},
                "y": {"field": "y", "type": "quantitative", "scale": {"domain": [-0.0133, 0.0996], "nice": false, "zero": false}, "axis": null}
              }
            },
            {
              "mark": {"type": "text", "align": "left", "baseline": "middle", "fontSize": 18, "color": "#000"},
              "encoding": {
                "x": {"datum": 0.4109, "type": "quantitative", "axis": null},
                "y": {"datum": 0.0899, "type": "quantitative", "axis": null},
                "text": {"value": "NGC6544B"}
              }
            },
            {
              "mark": {"type": "point", "opacity": 0},
              "encoding": {
                "x": {"field": "x", "type": "quantitative", "scale": {"domain": [0.4, 0.65], "nice": false, "zero": false},
                  "axis": {"orient": "top", "values": [0.41,0.42,0.43,0.44,0.45,0.46,0.47,0.48,0.49,0.5,0.51,0.52,0.53,0.54,0.55,0.56,0.57,0.58,0.59,0.6,0.61,0.62,0.63,0.64], "tickSize": {"condition": {"test": "abs(datum.value*20-round(datum.value*20))<0.001", "value": -10}, "value": -5}, "labels": false, "title": null}},
                "y": {"field": "y", "type": "quantitative", "scale": {"domain": [-0.0133, 0.0996], "nice": false, "zero": false},
                  "axis": {"orient": "right", "values": [-0.01,0,0.01,0.02,0.03,0.04,0.05,0.06,0.07,0.08,0.09], "tickSize": {"condition": {"test": "abs(datum.value*20-round(datum.value*20))<0.001", "value": -10}, "value": -5}, "labels": false, "title": null}}
              }
            }
          ],
          "resolve": {"axis": {"x": "independent", "y": "independent"}}
        }
      ]
    }
  ],
  "spacing": 138
}
